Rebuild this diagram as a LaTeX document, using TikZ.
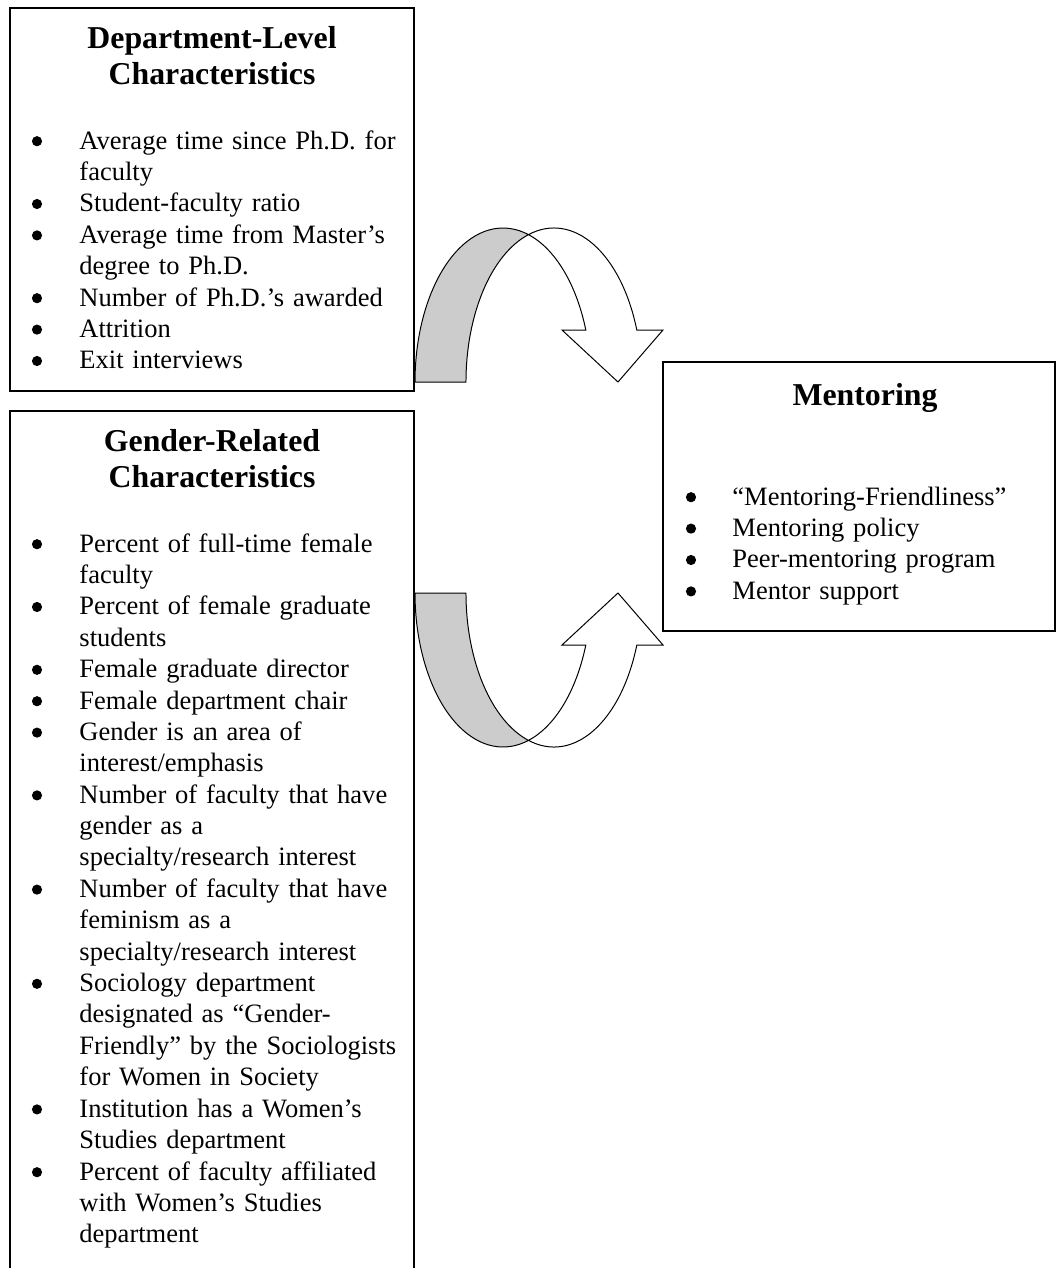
\documentclass[tikz,border=0pt]{standalone}
\usepackage{fontspec}
\setmainfont{Liberation Serif}

\begin{document}
\begin{tikzpicture}[
    x=0.4525pt, y=-0.4525pt,
    % Style for the framed boxes
    frame/.style={line width=0.9pt},
    % Style for the box headings
    heading/.style={font=\bfseries\fontsize{14.4}{16.3}\selectfont, text width=170pt,
        align=center, anchor=base, inner sep=0pt},
    % Style for the bulleted entries
    entry/.style={font=\fontsize{12}{14.2}\selectfont, text width=150pt,
        align=left, anchor=base west, inner sep=0pt},
    % Style for the bullet dots
    dot/.style={circle, fill=black, inner sep=0pt, minimum size=4.6pt},
    % Styles for the two faces of the curved ribbon arrows
    ribbon back/.style={draw=black, line width=0.45pt, fill=black!20},
    ribbon front/.style={draw=black, line width=0.45pt, fill=white}
]

    \useasboundingbox (0,0) rectangle (1057,1268);
    \def\lsk{31.4}

    % --- 1. Define Coordinates ---
    \coordinate (dept nw) at (10,8);
    \coordinate (dept se) at (414,391);

    \coordinate (gend nw) at (10,411);
    \coordinate (gend sw) at (10,1268);
    \coordinate (gend se) at (414,1268);

    \coordinate (ment nw) at (663,362);
    \coordinate (ment se) at (1055,631);


    % --- 2. Draw the Boxes ---
    \draw[frame] (dept nw) rectangle (dept se);
    % the lower box runs off the page, so no bottom edge
    \draw[frame] (gend sw) |- (gend nw -| gend se) -- (gend se);
    \draw[frame] (ment nw) rectangle (ment se);


    % --- 3. Draw the Curved Arrows ---
    % Upper arrow: grey back face, then the white front face with its head
    \draw[ribbon back] (415,382)
        arc[start angle=180, end angle=286.84, x radius=88, y radius=154]
        arc[start angle=253.16, end angle=180, x radius=88, y radius=154] -- cycle;
    \draw[ribbon front] (528.5,234.6)
        arc[start angle=253.16, end angle=340.27, x radius=88, y radius=154]
        -- (663,330) -- (618,382) -- (562,330) -- (585.8,330)
        arc[start angle=340.27, end angle=286.84, x radius=88, y radius=154] -- cycle;

    % Lower arrow (mirror image)
    \draw[ribbon back] (415,593)
        arc[start angle=180, end angle=73.16, x radius=88, y radius=154]
        arc[start angle=106.84, end angle=180, x radius=88, y radius=154] -- cycle;
    \draw[ribbon front] (528.5,740.4)
        arc[start angle=106.84, end angle=19.73, x radius=88, y radius=154]
        -- (663,645) -- (618,593) -- (562,645) -- (585.8,645)
        arc[start angle=19.73, end angle=73.16, x radius=88, y radius=154] -- cycle;


    % --- 4. Department-Level Box ---
    \node[heading] (deptTitle) at (212,48) {Department-Level\\Characteristics};

    \node[entry] (dept1) at (79,149) {Average time since Ph.D. for\\faculty};
    \node[entry] (dept2) at (79,149+2*\lsk) {Student-faculty ratio};
    \node[entry] (dept3) at (79,149+3*\lsk) {Average time from Master’s\\degree to Ph.D.};
    \node[entry] (dept4) at (79,149+5*\lsk) {Number of Ph.D.’s awarded};
    \node[entry] (dept5) at (79,149+6*\lsk) {Attrition};
    \node[entry] (dept6) at (79,149+7*\lsk) {Exit interviews};

    \foreach \k in {0,2,3,5,6,7}
        \node[dot] (deptDot\k) at (37,149+\k*\lsk-7.8) {};


    % --- 5. Gender-Related Box ---
    \node[heading] (gendTitle) at (212,451) {Gender-Related\\Characteristics};

    \node[entry] (gend1) at (79,552) {Percent of full-time female\\faculty};
    \node[entry] (gend2) at (79,552+2*\lsk) {Percent of female graduate\\students};
    \node[entry] (gend3) at (79,552+4*\lsk) {Female graduate director};
    \node[entry] (gend4) at (79,552+5*\lsk) {Female department chair};
    \node[entry] (gend5) at (79,552+6*\lsk) {Gender is an area of\\interest/emphasis};
    \node[entry] (gend6) at (79,552+8*\lsk) {Number of faculty that have\\gender as a\\specialty/research interest};
    \node[entry] (gend7) at (79,552+11*\lsk) {Number of faculty that have\\feminism as a\\specialty/research interest};
    \node[entry] (gend8) at (79,552+14*\lsk) {Sociology department\\designated as “Gender-\\Friendly” by the Sociologists\\for Women in Society};
    \node[entry] (gend9) at (79,552+18*\lsk) {Institution has a Women’s\\Studies department};
    \node[entry] (gend10) at (79,552+20*\lsk) {Percent of faculty affiliated\\with Women’s Studies\\department};

    \foreach \k in {0,2,4,5,6,8,11,14,18,20}
        \node[dot] (gendDot\k) at (37,552+\k*\lsk-7.8) {};


    % --- 6. Mentoring Box ---
    \node[heading] (mentTitle) at (865,405) {Mentoring};

    \node[entry, text width=130pt] (ment1) at (732,505) {“Mentoring-Friendliness”};
    \node[entry, text width=130pt] (ment2) at (732,505+\lsk) {Mentoring policy};
    \node[entry, text width=130pt] (ment3) at (732,505+2*\lsk) {Peer-mentoring program};
    \node[entry, text width=130pt] (ment4) at (732,505+3*\lsk) {Mentor support};

    \foreach \k in {0,1,2,3}
        \node[dot] (mentDot\k) at (691,505+\k*\lsk-7.8) {};

\end{tikzpicture}
\end{document}
